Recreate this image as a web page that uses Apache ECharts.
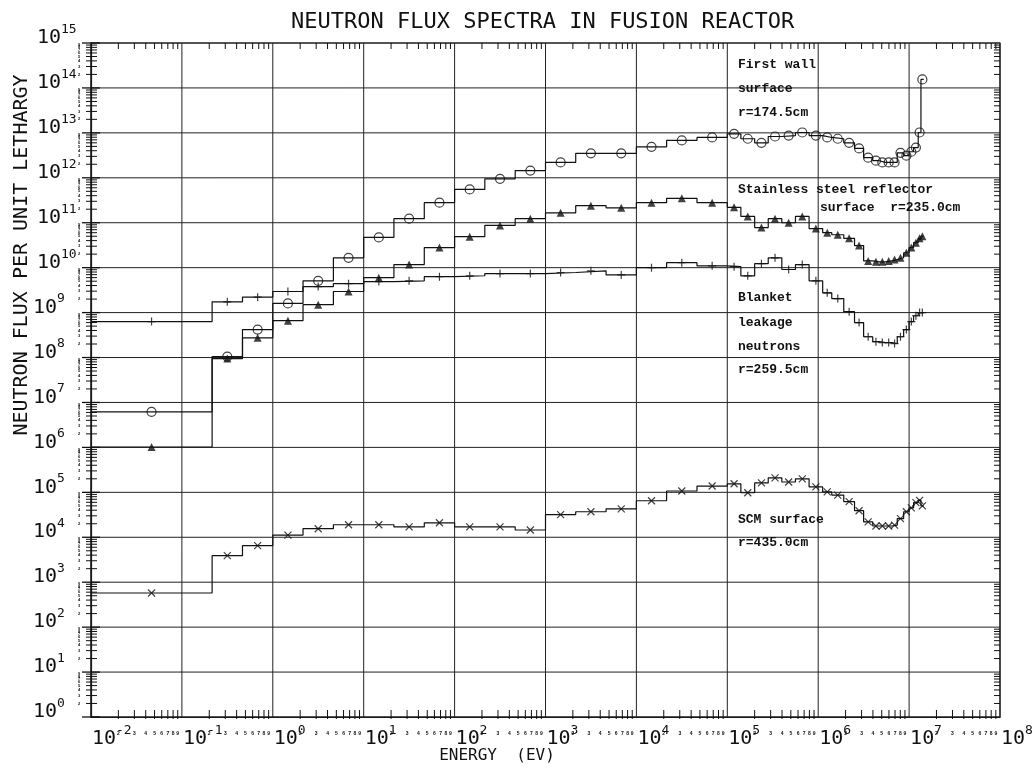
<!DOCTYPE html>
<html><head><meta charset="utf-8">
<script src="https://cdn.jsdelivr.net/npm/echarts@6/dist/echarts.min.js"></script>
<style>html,body{margin:0;padding:0;background:#fff}#c{width:1036px;height:769px}</style>
</head><body><div id="c"></div>
<script>
// Energy group boundaries (eV)
const groupEdgesEV = [1e-2, 0.215, 0.464, 1, 2.15, 4.64, 10, 21.5, 46.4, 100, 215, 464, 1e3, 2150, 4640,
  1e4, 2.15e4, 4.64e4, 1e5, 1.41e5, 2.0e5, 2.82e5, 3.98e5, 5.62e5, 7.94e5, 1.12e6, 1.41e6, 1.91e6,
  2.51e6, 3.16e6, 3.98e6, 4.68e6, 5.5e6, 6.46e6, 7.41e6, 8.71e6, 1.0e7, 1.12e7, 1.26e7, 1.35e7, 1.45e7];

// Flux per unit lethargy in each group
const firstWall = [6.2e6, 1.05e8, 4.2e8, 1.6e9, 5.1e9, 1.66e10, 4.7e10, 1.23e11, 2.8e11, 5.5e11, 9.5e11,
  1.45e12, 2.2e12, 3.5e12, 3.5e12, 4.9e12, 6.8e12, 7.9e12,
  9.5e12, 7.4e12, 6.0e12, 8.3e12, 8.7e12, 1.02e13, 8.7e12, 7.9e12, 7.4e12, 6.0e12, 4.5e12, 2.8e12,
  2.4e12, 2.2e12, 2.2e12, 2.2e12, 3.6e12, 3.1e12, 3.8e12, 4.7e12, 1.02e13, 1.55e14];
const stainlessReflector = [1.02e6, 9.5e7, 2.75e8, 6.6e8, 1.5e9, 2.95e9, 6.0e9, 1.17e10, 2.8e10, 4.9e10,
  8.7e10, 1.23e11, 1.66e11, 2.4e11, 2.15e11, 2.8e11, 3.5e11, 2.8e11,
  2.2e11, 1.38e11, 7.8e10, 1.23e11, 1.0e11, 1.38e11, 7.4e10, 6.0e10, 5.4e10, 4.5e10, 3.1e10, 1.41e10,
  1.35e10, 1.35e10, 1.41e10, 1.51e10, 1.66e10, 2.15e10, 2.8e10, 3.6e10, 4.5e10, 5.0e10];
const blanketLeakage = [6.3e8, 1.74e9, 2.2e9, 2.95e9, 3.8e9, 4.4e9, 4.9e9, 5.1e9, 6.3e9, 6.6e9, 7.4e9,
  7.4e9, 7.8e9, 8.5e9, 6.9e9, 1.0e10, 1.29e10, 1.1e10,
  1.05e10, 6.6e9, 1.23e10, 1.66e10, 9.1e9, 1.17e10, 5.1e9, 2.75e9, 2.05e9, 1.05e9, 6.0e8, 2.9e8,
  2.25e8, 2.15e8, 2.15e8, 2.05e8, 2.9e8, 4.2e8, 6.3e8, 8.5e8, 1.0e9, 1.0e9];
const scmSurface = [575, 3.9e3, 6.5e3, 1.12e4, 1.55e4, 1.9e4, 1.9e4, 1.7e4, 2.1e4, 1.7e4, 1.7e4, 1.45e4,
  3.2e4, 3.7e4, 4.3e4, 6.5e4, 1.07e5, 1.38e5,
  1.55e5, 9.8e4, 1.62e5, 2.1e5, 1.7e5, 2.0e5, 1.32e5, 1.02e5, 8.7e4, 6.2e4, 3.9e4, 2.2e4,
  1.78e4, 1.78e4, 1.78e4, 1.86e4, 2.6e4, 3.7e4, 4.5e4, 5.9e4, 6.6e4, 5.0e4];

// Axis ranges / tick labels
const xMinEV = 1e-2, xMaxEV = 1e8;
const yMin = 1, yMax = 1e15;
const xDecadeExps = [-2, -1, 0, 1, 2, 3, 4, 5, 6, 7, 8];
const yDecadeExps = [0, 1, 2, 3, 4, 5, 6, 7, 8, 9, 10, 11, 12, 13, 14, 15];
const minorMults = [2, 3, 4, 5, 6, 7, 8, 9];

const annotations = [
  ['First wall', 738, 65], ['surface', 738, 89], ['r=174.5cm', 738, 113],
  ['Stainless steel reflector', 738, 190], ['surface  r=235.0cm', 820, 208],
  ['Blanket', 738, 298], ['leakage', 738, 323], ['neutrons', 738, 347], ['r=259.5cm', 738, 370],
  ['SCM surface', 738, 520], ['r=435.0cm', 738, 543]
];

function stepData(vals) {
  const d = vals.map((v, i) => [groupEdgesEV[i], v]);
  d.push([groupEdgesEV[vals.length], vals[vals.length - 1]]);
  return d;
}
function centerData(vals) {
  return vals.map((v, i) => [Math.sqrt(groupEdgesEV[i] * groupEdgesEV[i + 1]), v]);
}
const xMinor = [], yMinor = [], xMajor = [], yMajor = [];
xDecadeExps.forEach(k => {
  xMajor.push([Math.pow(10, k), yMin]);
  if (k < 8) minorMults.forEach(m => xMinor.push([Number((m * Math.pow(10, k)).toPrecision(3)), yMin]));
});
yDecadeExps.forEach(k => {
  yMajor.push([xMinEV, Math.pow(10, k)]);
  if (k < 15) minorMults.forEach(m => yMinor.push([xMinEV, Number((m * Math.pow(10, k)).toPrecision(3))]));
});

const FONT = '"DejaVu Sans Mono", monospace';
const INK = '#111';
function mantissa(v) {
  const k = Math.floor(Math.log10(v) + 1e-9);
  return Math.round(v / Math.pow(10, k));
}
function expOf(v) { return Math.round(Math.log10(v)); }

const lineStyle = { color: INK, width: 1.2 };
function stepSeries(name, vals) {
  return { name: name, type: 'line', step: 'end', data: stepData(vals), showSymbol: false, symbol: 'none',
    lineStyle: lineStyle, z: 3, silent: true };
}
function markSeries(name, vals, symbol, size, filled) {
  return { name: name, type: 'scatter', data: centerData(vals), symbol: symbol, symbolSize: size, z: 4, silent: true,
    itemStyle: filled ? { color: INK } : { color: 'rgba(0,0,0,0)', borderColor: INK, borderWidth: 1.2 } };
}
function powerLabel(x, y, e) {
  // "10" with superscript exponent, anchored at (x, y) = left/bottom of "10"
  return [
    { type: 'text', x: x, y: y, style: { text: '10', fontFamily: FONT, fontSize: 20, fill: INK, align: 'left', verticalAlign: 'bottom' } },
    { type: 'text', x: x + 24, y: y - 12, style: { text: String(e), fontFamily: FONT, fontSize: 13, fill: INK, align: 'left', verticalAlign: 'bottom' } }
  ];
}

const chart = echarts.init(document.getElementById('c'), null, { renderer: 'canvas' });
chart.setOption({
  animation: false,
  backgroundColor: '#fff',
  title: {
    text: 'NEUTRON FLUX SPECTRA IN FUSION REACTOR', left: 286, top: 6,
    textStyle: { fontFamily: FONT, fontSize: 22, fontWeight: 'normal', color: INK }
  },
  grid: { left: 91, right: 36, top: 43, bottom: 52, containLabel: false, outerBoundsMode: 'none',
    show: true, borderColor: INK, borderWidth: 1.2 },
  xAxis: {
    type: 'log', logBase: 10, min: xMinEV, max: xMaxEV,
    axisLine: { lineStyle: { color: INK, width: 1.2 } },
    axisTick: { show: false }, splitLine: { show: false }, axisLabel: { show: false }
  },
  yAxis: {
    type: 'log', logBase: 10, min: yMin, max: yMax,
    axisLine: { lineStyle: { color: INK, width: 1.2 } },
    axisTick: { show: false }, splitLine: { show: false }, axisLabel: { show: false }
  },
  graphic: [
    { type: 'text', x: 22, y: 255, rotation: Math.PI / 2, silent: true,
      style: { text: 'NEUTRON FLUX PER UNIT LETHARGY', fontFamily: FONT, fontSize: 20, fill: INK, align: 'center', verticalAlign: 'middle' } },
    { type: 'text', x: 497, y: 756, silent: true,
      style: { text: 'ENERGY  (EV)', fontFamily: FONT, fontSize: 16, fill: INK, align: 'center', verticalAlign: 'middle' } }
  ].concat(annotations.map(a => ({
    type: 'text', x: a[1], y: a[2], silent: true, z: 10,
    style: { text: a[0], fontFamily: '"Liberation Mono", "Courier New", monospace', fontWeight: 'bold', fontSize: 13,
      fill: INK, align: 'left', verticalAlign: 'middle' }
  }))),
  series: [
    // decade grid lines and power-of-ten labels, placed through the axis scales
    { type: 'custom', name: 'xDecades', data: xMajor, clip: false, silent: true, z: 1,
      renderItem: function (params, api) {
        const v = api.value(0);
        const b = api.coord([v, yMin]);
        const t = api.coord([v, yMax]);
        return { type: 'group', children: [
          { type: 'line', shape: { x1: b[0], y1: b[1], x2: t[0], y2: t[1] }, style: { stroke: '#222', lineWidth: 1 } }
        ].concat(powerLabel(b[0] + 1, b[1] + 32, expOf(v))) };
      } },
    { type: 'custom', name: 'yDecades', data: yMajor, clip: false, silent: true, z: 1,
      renderItem: function (params, api) {
        const v = api.value(1);
        const l = api.coord([xMinEV, v]);
        const r = api.coord([xMaxEV, v]);
        const e = expOf(v);
        return { type: 'group', children: [
          { type: 'line', shape: { x1: l[0], y1: l[1], x2: r[0], y2: r[1] }, style: { stroke: '#222', lineWidth: 1 } },
          { type: 'line', shape: { x1: l[0] - 9, y1: l[1], x2: l[0] + 9, y2: l[1] }, style: { stroke: INK, lineWidth: 1.3 } }
        ].concat(powerLabel(l[0] - (e >= 10 ? 54 : 58), l[1] + 5, e)) };
      } },
    stepSeries('First wall surface', firstWall),
    stepSeries('Stainless steel reflector surface', stainlessReflector),
    stepSeries('Blanket leakage neutrons', blanketLeakage),
    stepSeries('SCM surface', scmSurface),
    markSeries('First wall surface', firstWall, 'circle', 9, false),
    markSeries('Stainless steel reflector surface', stainlessReflector, 'triangle', 8, true),
    markSeries('Blanket leakage neutrons', blanketLeakage, 'path://M5,0L5,10M0,5L10,5', 8, false),
    markSeries('SCM surface', scmSurface, 'path://M0,0L10,10M0,10L10,0', 7, false),
    { type: 'custom', name: 'xMinorTicks', data: xMinor, clip: false, silent: true, z: 5,
      renderItem: function (params, api) {
        const v = api.value(0);
        const b = api.coord([v, yMin]);
        const t = api.coord([v, yMax]);
        return { type: 'group', children: [
          { type: 'line', shape: { x1: b[0], y1: b[1] + 2, x2: b[0], y2: b[1] - 7 }, style: { stroke: INK, lineWidth: 1 } },
          { type: 'line', shape: { x1: t[0], y1: t[1], x2: t[0], y2: t[1] + 6 }, style: { stroke: INK, lineWidth: 1 } },
          { type: 'text', x: b[0], y: b[1] + 17, style: { text: String(mantissa(v)), fontSize: 5, fontWeight: 'bold', fill: INK, align: 'center', verticalAlign: 'middle' } }
        ] };
      } },
    { type: 'custom', name: 'yMinorTicks', data: yMinor, clip: false, silent: true, z: 5,
      renderItem: function (params, api) {
        const v = api.value(1);
        const l = api.coord([xMinEV, v]);
        const r = api.coord([xMaxEV, v]);
        return { type: 'group', children: [
          { type: 'line', shape: { x1: l[0] - 5, y1: l[1], x2: l[0] + 6, y2: l[1] }, style: { stroke: INK, lineWidth: 1 } },
          { type: 'line', shape: { x1: r[0] - 6, y1: r[1], x2: r[0], y2: r[1] }, style: { stroke: INK, lineWidth: 1 } },
          { type: 'text', x: l[0] - 12, y: l[1], style: { text: String(mantissa(v)), fontSize: 4, fontWeight: 'bold', fill: INK, align: 'center', verticalAlign: 'middle' } }
        ] };
      } }
  ]
});
</script></body></html>
